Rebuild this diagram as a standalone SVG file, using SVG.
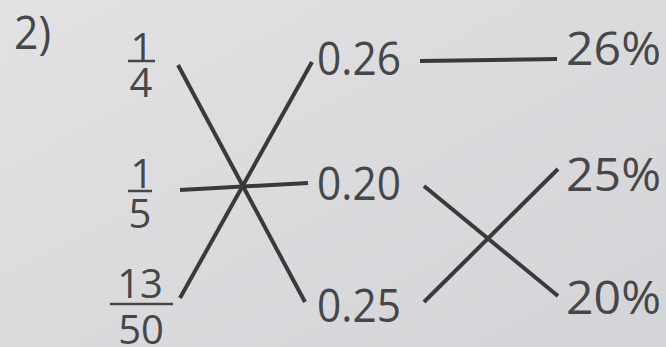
<svg xmlns="http://www.w3.org/2000/svg" width="666" height="347" viewBox="0 0 666 347">
<defs>
<style>
text{font-family:"Open Sans","Noto Sans",sans-serif;fill:#474749}
.big{font-size:45px}
.fr{font-size:40px;text-anchor:middle}
.bar{stroke:#474749;stroke-width:2.5}
.c{stroke:#3a3a3d;stroke-width:4;stroke-linecap:butt;fill:none}
</style>
<linearGradient id="bg" x1="0" y1="0" x2="1" y2="1">
<stop offset="0" stop-color="#e2e2e4"/>
<stop offset="1" stop-color="#d4d4d8"/>
</linearGradient>
</defs>
<rect width="666" height="347" fill="url(#bg)"/>
<g id="label"><text class="big" x="14" y="49" textLength="37" lengthAdjust="spacingAndGlyphs">2)</text></g>
<g id="f14">
<text class="fr" x="142" y="62">1</text>
<line class="bar" x1="128" y1="61" x2="155" y2="61"/>
<text class="fr" x="141" y="97">4</text>
</g>
<g id="f15">
<text class="fr" x="142" y="188">1</text>
<line class="bar" x1="128" y1="191" x2="152" y2="191"/>
<text class="fr" x="140" y="228">5</text>
</g>
<g id="f1350">
<text class="fr" x="140" y="298">13</text>
<line class="bar" x1="110" y1="304" x2="173" y2="304"/>
<text class="fr" x="141" y="344">50</text>
</g>
<g id="d026"><text class="big" x="317" y="75" textLength="84" lengthAdjust="spacingAndGlyphs">0.26</text></g>
<g id="d020"><text class="big" x="317" y="200" textLength="84" lengthAdjust="spacingAndGlyphs">0.20</text></g>
<g id="d025"><text class="big" x="317" y="322" textLength="84" lengthAdjust="spacingAndGlyphs">0.25</text></g>
<g id="p26"><text class="big" x="566" y="65" textLength="95" lengthAdjust="spacingAndGlyphs">26%</text></g>
<g id="p25"><text class="big" x="566" y="191" textLength="95" lengthAdjust="spacingAndGlyphs">25%</text></g>
<g id="p20"><text class="big" x="566" y="314" textLength="95" lengthAdjust="spacingAndGlyphs">20%</text></g>
<g id="connectors">
<line class="c" x1="178" y1="65" x2="305" y2="302"/>
<line class="c" x1="180" y1="298" x2="312" y2="62"/>
<line class="c" x1="180" y1="190" x2="308" y2="183"/>
<line class="c" x1="420" y1="61" x2="557" y2="59"/>
<line class="c" x1="424" y1="186" x2="558" y2="296"/>
<line class="c" x1="424" y1="302" x2="558" y2="169"/>
</g>
</svg>
